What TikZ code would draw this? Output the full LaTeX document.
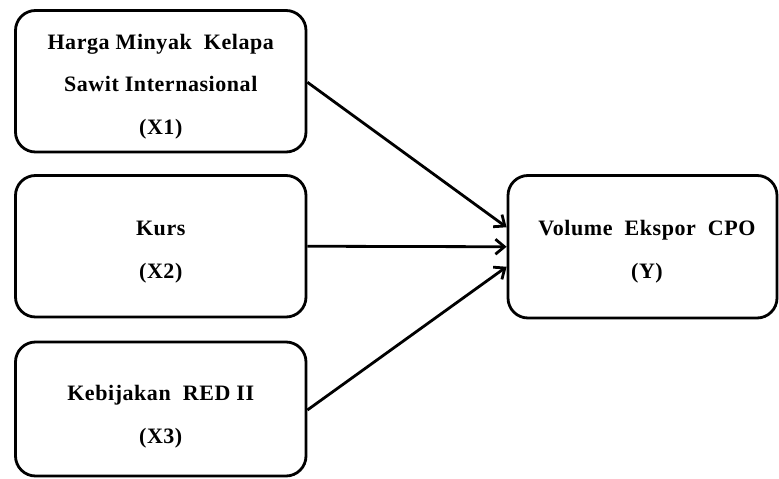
\documentclass[tikz,border=0pt]{standalone}
\usepackage{fontspec}
\setmainfont{Liberation Serif}
\newfontfamily\boxlabelfont[LetterSpace=2.5]{Liberation Serif}
\usetikzlibrary{arrows.meta}
\begin{document}
\begin{tikzpicture}[x=1pt,y=-1pt,
  varbox/.style={draw=black,line width=2.8pt,rounded corners=20pt,inner sep=0pt,fill=white},
  vartext/.style={anchor=base,align=center,inner sep=0pt,font=\boxlabelfont\bfseries\fontsize{22}{42.5}\selectfont},
  link/.style={line width=2.8pt,-{Straight Barb[length=9pt,width=15pt,line width=2.8pt]}}]
\useasboundingbox (0,0) rectangle (779,479);
\node[varbox,minimum width=290.5pt,minimum height=141.5pt] (x1) at (160.75,81.25) {};
\node[varbox,minimum width=290.5pt,minimum height=141.5pt] (x2) at (160.75,246.25) {};
\node[varbox,minimum width=290.5pt,minimum height=134pt] (x3) at (160.75,409) {};
\node[varbox,minimum width=269pt,minimum height=142.5pt] (y) at (642.5,246.75) {};
\node[vartext] (t1) at (160.75,134) {Harga Minyak\ \ Kelapa\\Sawit Internasional\\(X1)};
\node[vartext] (t2) at (160.75,278) {Kurs\\(X2)};
\node[vartext] (t3) at (160.75,443) {Kebijakan\ \ RED II\\(X3)};
\node[vartext] (ty) at (647,278) {Volume\ \ Ekspor\ \ CPO\\(Y)};
\draw[link] ([yshift=-1pt]x1.east) -- ([yshift=19.5pt]y.west);
\draw[link] (x2.east) -- (y.west);
\draw[link] ([yshift=-1pt]x3.east) -- ([yshift=-20pt]y.west);
\end{tikzpicture}
\end{document}
